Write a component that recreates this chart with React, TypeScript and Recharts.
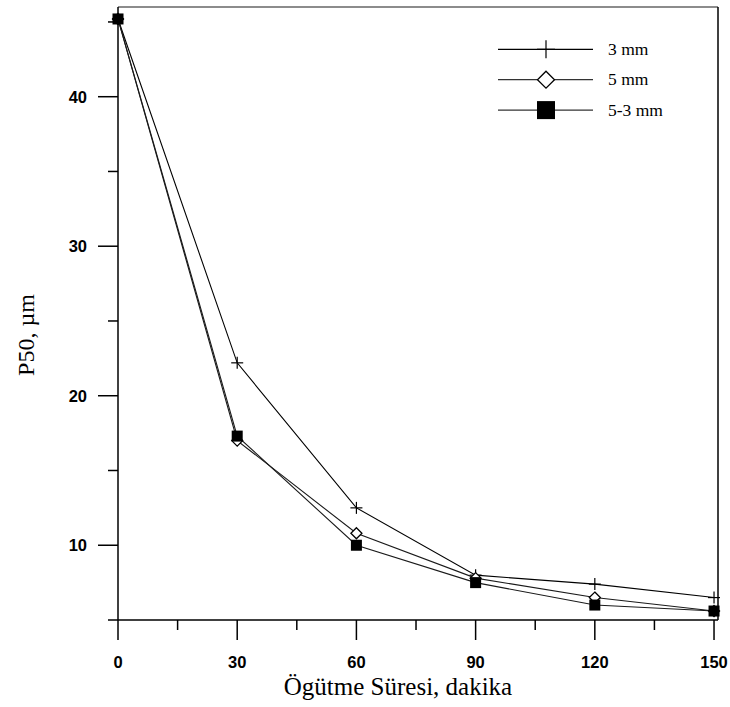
import React from 'react';
import { LineChart, Line, XAxis, YAxis, ReferenceLine, Legend } from 'recharts';

// grinding time (min) and P50 (µm) per ball size
const times = [0, 30, 60, 90, 120, 150];
const p50Ball3 = [45.2, 22.2, 12.5, 8.0, 7.4, 6.5];
const p50Ball5 = [45.2, 17.0, 10.8, 7.8, 6.5, 5.6];
const p50Ball53 = [45.2, 17.3, 10.0, 7.5, 6.0, 5.6];
const seriesNames = ['3 mm', '5 mm', '5-3 mm'];

const xTicks = [0, 15, 30, 45, 60, 75, 90, 105, 120, 135, 150];
const yTicks = [5, 10, 15, 20, 25, 30, 35, 40, 45];

const data = times.map((t, i) => ({
  t,
  b3: p50Ball3[i],
  b5: p50Ball5[i],
  b53: p50Ball53[i],
}));

const tickFont = { fontFamily: '"Liberation Sans", Arial, sans-serif', fontSize: 16.5, fontWeight: 700 };
const serif = '"Liberation Serif", "Times New Roman", serif';

function Cross({ cx, cy, s = 6 }: any) {
  return (
    <g>
      <line x1={cx - s} x2={cx + s} y1={cy} y2={cy} stroke="#000" strokeWidth={1.2} />
      <line x1={cx} x2={cx} y1={cy - s} y2={cy + s} stroke="#000" strokeWidth={1.2} />
    </g>
  );
}

function Diamond({ cx, cy, s = 5.5 }: any) {
  return (
    <path
      d={`M${cx},${cy - s}L${cx + s},${cy}L${cx},${cy + s}L${cx - s},${cy}Z`}
      fill="#fff"
      stroke="#000"
      strokeWidth={1.3}
    />
  );
}

function Square({ cx, cy, s = 5.5 }: any) {
  return <rect x={cx - s} y={cy - s} width={2 * s} height={2 * s} fill="#000" />;
}

function XTick({ x, y, payload }: any) {
  const major = payload.value % 30 === 0;
  return (
    <g>
      <line x1={x} x2={x} y1={y} y2={y + (major ? 20 : 10)} stroke="#000" strokeWidth={1.5} />
      {major && (
        <text x={x} y={y + 48} textAnchor="middle" fill="#000" {...tickFont}>
          {payload.value}
        </text>
      )}
    </g>
  );
}

function YTick({ x, y, payload }: any) {
  const major = payload.value % 10 === 0;
  return (
    <g>
      <line x1={x - (major ? 20 : 10)} x2={x} y1={y} y2={y} stroke="#000" strokeWidth={1.5} />
      {major && (
        <text x={x - 31} y={y} dy="0.36em" textAnchor="end" fill="#000" {...tickFont}>
          {payload.value}
        </text>
      )}
    </g>
  );
}

function renderLegend() {
  const markers = [
    (cx: number, cy: number) => <Cross cx={cx} cy={cy} s={9} />,
    (cx: number, cy: number) => <Diamond cx={cx} cy={cy} s={8.5} />,
    (cx: number, cy: number) => <Square cx={cx} cy={cy} s={9} />,
  ];
  const strokes = ['#000', '#333', '#333'];
  return (
    <svg width={200} height={95}>
      {seriesNames.map((name, i) => {
        const y = 15.3 + i * 30.4;
        return (
          <g key={name}>
            <line x1={8} x2={103} y1={y} y2={y} stroke={strokes[i]} strokeWidth={1.2} />
            {markers[i](56, y)}
            <text x={118} y={y} dy="0.33em" fontFamily={serif} fontSize={17.5} fill="#000">
              {name}
            </text>
          </g>
        );
      })}
    </svg>
  );
}

export default function App() {
  return (
    <div style={{ position: 'absolute', left: 0, top: 0, background: '#fff' }}>
      <LineChart width={730} height={707} data={data} margin={{ top: 7, right: 12, bottom: 0, left: 0 }}>
        <XAxis
          dataKey="t"
          type="number"
          domain={[0, 151]}
          ticks={xTicks}
          interval={0}
          tickSize={0}
          tickMargin={0}
          tickLine={false}
          height={87}
          axisLine={{ stroke: '#000', strokeWidth: 1.5 }}
          tick={<XTick />}
          label={{
            content: () => (
              <text x={398} y={695} textAnchor="middle" fontFamily={serif} fontSize={25} fill="#000">
                Ögütme Süresi, dakika
              </text>
            ),
          }}
        />
        <YAxis
          type="number"
          domain={[5, 46]}
          ticks={yTicks}
          interval={0}
          tickSize={0}
          tickMargin={0}
          tickLine={false}
          width={118}
          axisLine={{ stroke: '#000', strokeWidth: 1.5 }}
          tick={<YTick />}
          label={{
            content: () => (
              <text
                x={34}
                y={335}
                transform="rotate(-90 34 335)"
                textAnchor="middle"
                fontFamily={serif}
                fontSize={24}
                fill="#000"
              >
                P50, µm
              </text>
            ),
          }}
        />
        <ReferenceLine y={46} stroke="#666" strokeWidth={1.5} />
        <ReferenceLine x={151} stroke="#000" strokeWidth={1.5} />
        <Legend
          layout="vertical"
          align="center"
          verticalAlign="middle"
          content={renderLegend}
          wrapperStyle={{ left: 490, top: 34, width: 200, height: 95 }}
        />
        <Line
          dataKey="b3"
          name="3 mm"
          stroke="#000"
          strokeWidth={1.1}
          isAnimationActive={false}
          dot={(p: any) => <Cross key={`a${p.index}`} cx={p.cx} cy={p.cy} />}
        />
        <Line
          dataKey="b5"
          name="5 mm"
          stroke="#1a1a1a"
          strokeWidth={1.1}
          isAnimationActive={false}
          dot={(p: any) => <Diamond key={`b${p.index}`} cx={p.cx} cy={p.cy} />}
        />
        <Line
          dataKey="b53"
          name="5-3 mm"
          stroke="#1a1a1a"
          strokeWidth={1.1}
          isAnimationActive={false}
          dot={(p: any) => <Square key={`c${p.index}`} cx={p.cx} cy={p.cy} />}
        />
      </LineChart>
    </div>
  );
}
